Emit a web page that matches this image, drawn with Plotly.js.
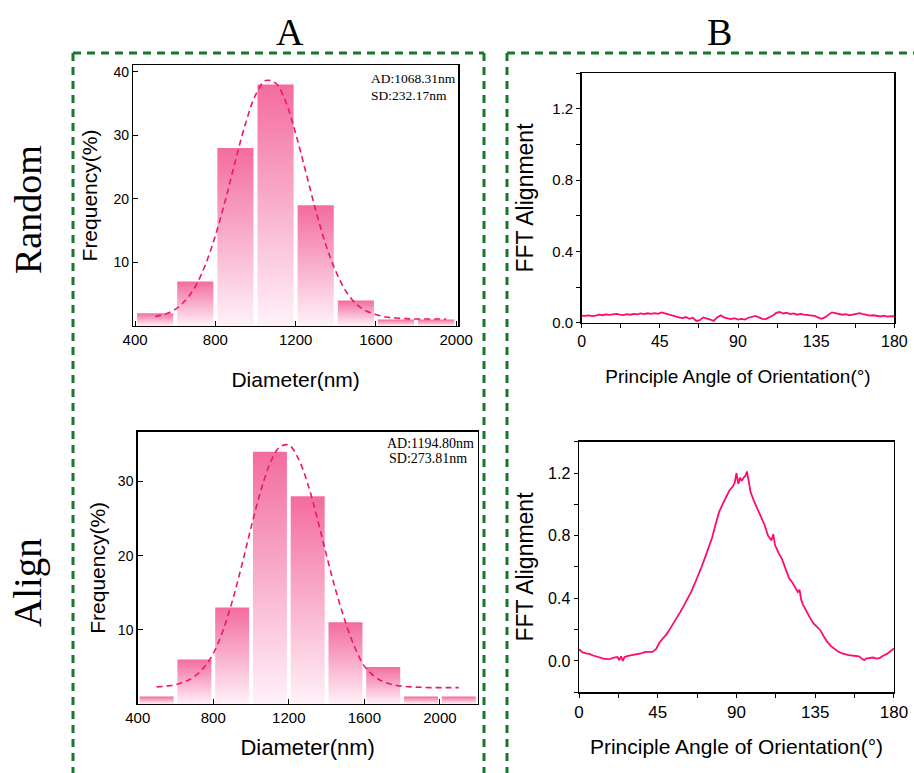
<!DOCTYPE html>
<html>
<head>
<meta charset="utf-8">
<script src="https://cdn.plot.ly/plotly-3.0.1.min.js"></script>
<style>html,body{margin:0;padding:0;background:#fff;}#chart{width:914px;height:773px;}</style>
</head>
<body>
<div id="chart"></div>
<script>
// ---------- DATA ----------
// Histograms (bin centres, nm; frequency %)
const binCentersRandom = [500, 700, 900, 1100, 1300, 1500, 1700, 1900];
const freqRandom = [2, 7, 28, 38, 19, 4, 1, 1];
const binCentersAlign = [500, 700, 900, 1100, 1300, 1500, 1700, 1900, 2100];
const freqAlign = [1, 6, 13, 34, 28, 11, 5, 1, 1];
const binWidth = 200;

// Fitted distribution curves
const fitRandomX = [500, 550, 600, 650, 700, 750, 800, 850, 900, 950, 1000, 1050, 1100, 1150, 1200, 1250, 1300, 1350, 1400, 1450, 1500, 1550, 1600, 1650, 1700, 1750, 1800, 1850, 1900, 1950];
const fitRandomY = [1.5, 1.9, 2.6, 4.0, 6.2, 9.6, 14.2, 19.8, 26.0, 31.8, 36.3, 38.6, 38.2, 35.3, 30.3, 24.3, 18.2, 12.8, 8.6, 5.5, 3.5, 2.4, 1.8, 1.4, 1.25, 1.15, 1.1, 1.1, 1.1, 1.1];
const fitAlignX = [500, 550, 600, 650, 700, 750, 800, 850, 900, 950, 1000, 1050, 1100, 1150, 1200, 1250, 1300, 1350, 1400, 1450, 1500, 1550, 1600, 1650, 1700, 1750, 1800, 1850, 1900, 1950, 2000, 2050, 2100];
const fitAlignY = [2.3, 2.4, 2.6, 3.0, 3.7, 4.9, 6.8, 9.8, 13.8, 18.6, 23.8, 28.6, 32.4, 34.6, 34.9, 33.1, 29.7, 25.1, 20.0, 15.2, 11.0, 7.6, 5.1, 3.8, 3.0, 2.6, 2.4, 2.3, 2.25, 2.2, 2.2, 2.2, 2.2];

const statsRandom = ["AD:1068.31nm", "SD:232.17nm"];
const statsAlign = ["AD:1194.80nm", "SD:273.81nm"];

// FFT alignment profiles (degrees, alignment value)
const angleRandom = [0,2,4,6,8,10,12,14,16,18,20,22,24,26,28,30,32,34,36,38,40,42,44,46,48,50,52,54,56,58,60,62,64,66,68,70,72,74,76,78,80,82,84,86,88,90,92,94,96,98,100,102,104,106,108,110,112,114,116,118,120,122,124,126,128,130,132,134,136,138,140,142,144,146,148,150,152,154,156,158,160,162,164,166,168,170,172,174,176,178,180];
const fftRandom = [0.040,0.038,0.041,0.037,0.040,0.045,0.042,0.047,0.044,0.046,0.050,0.045,0.043,0.048,0.045,0.050,0.047,0.052,0.048,0.053,0.050,0.054,0.050,0.058,0.052,0.045,0.040,0.036,0.030,0.026,0.032,0.022,0.028,0.010,0.014,0.030,0.025,0.018,0.010,0.030,0.042,0.030,0.025,0.020,0.026,0.018,0.022,0.018,0.028,0.035,0.038,0.030,0.022,0.020,0.028,0.040,0.055,0.060,0.052,0.056,0.048,0.052,0.045,0.050,0.046,0.044,0.042,0.038,0.030,0.022,0.030,0.045,0.058,0.054,0.050,0.045,0.048,0.042,0.046,0.050,0.054,0.048,0.045,0.040,0.042,0.038,0.035,0.040,0.034,0.037,0.035];

const angleAlign = [0,2,4,6,8,10,12,14,16,18,20,22,23,24,25,26,28,30,32,34,36,38,40,42,44,46,48,50,52,54,56,58,60,62,64,66,68,70,72,74,76,78,80,82,84,86,88,89,90,91,92,93,94,95,96,97,98,100,102,104,106,108,110,111,112,114,116,118,120,122,124,125,126,127,128,130,132,134,136,138,140,142,144,146,148,150,152,154,156,158,160,162,163,164,166,168,170,172,174,176,178,180];
const fftAlign = [0.075,0.055,0.048,0.045,0.035,0.028,0.018,0.015,0.012,0.014,0.022,0.025,0.005,0.030,0.000,0.025,0.032,0.036,0.038,0.044,0.050,0.058,0.060,0.058,0.075,0.118,0.145,0.170,0.205,0.240,0.275,0.315,0.355,0.395,0.440,0.490,0.540,0.600,0.660,0.720,0.785,0.870,0.950,1.000,1.050,1.090,1.115,1.140,1.200,1.130,1.170,1.150,1.170,1.180,1.210,1.150,1.080,1.020,0.970,0.910,0.870,0.800,0.770,0.810,0.740,0.690,0.650,0.590,0.530,0.500,0.465,0.440,0.455,0.390,0.360,0.315,0.275,0.240,0.220,0.195,0.155,0.120,0.095,0.075,0.060,0.050,0.042,0.038,0.035,0.033,0.030,0.012,0.005,0.015,0.018,0.022,0.015,0.020,0.035,0.045,0.062,0.080];

const histXTicks = [400, 800, 1200, 1600, 2000];
const fftXTicks = [0, 45, 90, 135, 180];
const fftYTicks = [0.0, 0.4, 0.8, 1.2];

// ---------- STYLE ----------
const SANS = "Liberation Sans, Arial, sans-serif";
const SERIF = "Liberation Serif, Times New Roman, serif";
const barTop = "rgb(243,108,158)";
const barBottom = "rgb(255,242,248)";
const fitColor = "rgb(238,22,110)";
const lineColor = "rgb(255,10,110)";
const green = "#17792d";

function barTraces(centers, values, xa, ya) {
  const half = binWidth * 0.45;
  return centers.map((c, i) => ({
    type: "scatter", mode: "lines", xaxis: xa, yaxis: ya,
    x: [c - half, c - half, c + half, c + half, c - half],
    y: [0, values[i], values[i], 0, 0],
    fill: "toself",
    fillgradient: {type: "vertical", colorscale: [[0, barBottom], [1, barTop]]},
    line: {width: 0, color: "rgba(0,0,0,0)"},
    hoverinfo: "x+y", showlegend: false
  }));
}

const traces = [
  ...barTraces(binCentersRandom, freqRandom, "x", "y"),
  {type: "scatter", mode: "lines", x: fitRandomX, y: fitRandomY, xaxis: "x", yaxis: "y",
   line: {color: fitColor, width: 1.6, dash: "6px,4px", shape: "spline"}, showlegend: false},
  ...barTraces(binCentersAlign, freqAlign, "x2", "y2"),
  {type: "scatter", mode: "lines", x: fitAlignX, y: fitAlignY, xaxis: "x2", yaxis: "y2",
   line: {color: fitColor, width: 1.6, dash: "6px,4px", shape: "spline"}, showlegend: false},
  {type: "scatter", mode: "lines", x: angleRandom, y: fftRandom, xaxis: "x3", yaxis: "y3",
   line: {color: lineColor, width: 1.8}, showlegend: false},
  {type: "scatter", mode: "lines", x: angleAlign, y: fftAlign, xaxis: "x4", yaxis: "y4",
   line: {color: lineColor, width: 1.8}, showlegend: false}
];

const tickFont = {family: SANS, size: 15, color: "#000"};
const frame = {showline: true, linecolor: "#000", linewidth: 1.5, mirror: true, showgrid: false, zeroline: false, automargin: false};

function histX(domain, range, titleSize, standoff) {
  return Object.assign({}, frame, {domain, range, tickvals: histXTicks, ticks: "inside", ticklen: 5, tickcolor: "#000",
    tickfont: tickFont, title: {text: "Diameter(nm)", font: {family: SANS, size: titleSize, color: "#000"}, standoff}});
}
function histY(domain, range, tickvals, standoff) {
  return Object.assign({}, frame, {domain, range, tickvals, ticks: "inside", ticklen: 5, tickcolor: "#000",
    tickfont: {family: SANS, size: 14, color: "#000"}, title: {text: "Frequency(%)", font: {family: SANS, size: 21, color: "#000"}, standoff}});
}
function fftX(domain, fontSize, titleSize, standoff) {
  return Object.assign({}, frame, {domain, range: [0, 180], tickvals: fftXTicks, ticks: "outside", ticklen: 4, tickcolor: "#000",
    minor: {dtick: 22.5, tick0: 0, ticks: "outside", ticklen: 4, tickcolor: "#000"},
    tickfont: {family: SANS, size: fontSize, color: "#000"},
    title: {text: "Principle Angle of Orientation(°)", font: {family: SANS, size: titleSize, color: "#000"}, standoff}});
}
function fftY(domain, range, fontSize, standoff) {
  return Object.assign({}, frame, {domain, range, tickvals: fftYTicks, ticktext: fftYTicks.map(v => v.toFixed(1)), ticks: "outside", ticklen: 4, tickcolor: "#000",
    minor: {dtick: 0.2, tick0: 0, ticks: "outside", ticklen: 4, tickcolor: "#000"},
    tickfont: {family: SANS, size: fontSize, color: "#000"},
    title: {text: "FFT Alignment", font: {family: SANS, size: 23, color: "#000"}, standoff}});
}

function seg(x0, y0, x1, y1) {
  return {type: "line", xref: "paper", yref: "paper", x0: x0 / 914, y0: 1 - y0 / 773, x1: x1 / 914, y1: 1 - y1 / 773,
    line: {color: green, width: 3, dash: "8px,6px"}};
}
function label(text, px, py, font, extra) {
  return Object.assign({text, xref: "paper", yref: "paper", x: px / 914, y: 1 - py / 773,
    xanchor: "center", yanchor: "middle", showarrow: false, font}, extra || {});
}

const layout = {
  width: 914, height: 773,
  margin: {l: 0, r: 0, t: 0, b: 0},
  paper_bgcolor: "#fff", plot_bgcolor: "#fff",
  showlegend: false,
  xaxis: histX([0.1458, 0.5011], [391, 2009], 21, 25),
  yaxis: histY([0.5783, 0.9159], [0, 41.05], [10, 20, 30, 40], 10),
  xaxis2: Object.assign(histX([0.1507, 0.5226], [400, 2200], 22, 14), {anchor: "y2"}),
  yaxis2: Object.assign(histY([0.0893, 0.4415], [0, 36.7], [10, 20, 30], 6), {anchor: "x2"}),
  xaxis3: Object.assign(fftX([0.6364, 0.9785], 16, 19, 20), {anchor: "y3"}),
  yaxis3: Object.assign(fftY([0.5825, 0.9052], [0, 1.4], 15, 12), {anchor: "x3"}),
  xaxis4: Object.assign(fftX([0.6335, 0.9781], 17, 21, 18), {anchor: "y4"}),
  yaxis4: Object.assign(fftY([0.1044, 0.4286], [-0.2, 1.4], 16, 8), {anchor: "x4"}),
  annotations: [
    label("A", 290, 32, {family: SERIF, size: 38, color: "#000"}),
    label("B", 719, 32, {family: SERIF, size: 38, color: "#000"}),
    label("Random", 28, 210, {family: SERIF, size: 38, color: "#000"}, {textangle: -90}),
    label("Align", 28, 583, {family: SERIF, size: 39, color: "#000"}, {textangle: -90}),
    label(statsRandom[0], 369, 78, {family: SERIF, size: 13.5, color: "#000"}, {xanchor: "left"}),
    label(statsRandom[1], 369, 96, {family: SERIF, size: 13.5, color: "#000"}, {xanchor: "left"}),
    label(statsAlign[0], 430.5, 443, {family: SERIF, size: 14, color: "#000"}),
    label(statsAlign[1], 428, 458.5, {family: SERIF, size: 14, color: "#000"})
  ],
  shapes: [
    seg(73, 53, 484, 53), seg(73, 53, 73, 773), seg(484, 53, 484, 773),
    seg(507, 53, 914, 53), seg(507, 53, 507, 773)
  ]
};

Plotly.newPlot("chart", traces, layout, {displayModeBar: false, staticPlot: true});
</script>
</body>
</html>
